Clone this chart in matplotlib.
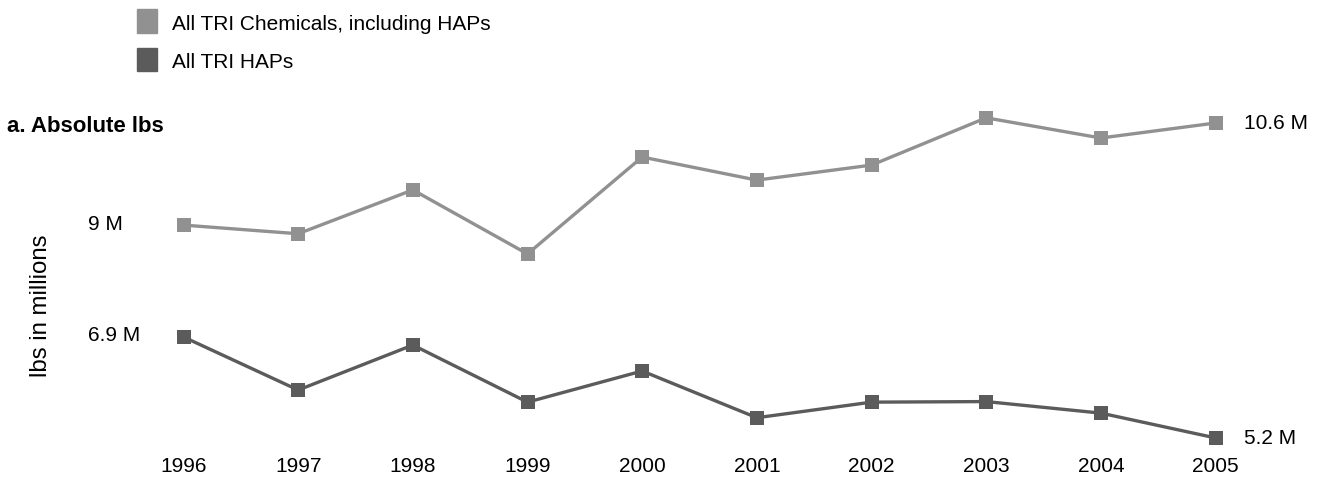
import matplotlib.pyplot as plt
from matplotlib.patches import Rectangle

# data (millions of lbs)
years = [1996, 1997, 1998, 1999, 2000, 2001, 2002, 2003, 2004, 2005]
all_tri = [8.89, 8.74, 9.50, 8.39, 10.07, 9.67, 9.93, 10.75, 10.40, 10.66]
tri_haps = [6.95, 6.03, 6.81, 5.82, 6.36, 5.55, 5.82, 5.83, 5.63, 5.20]
series_names = ["All TRI Chemicals, including HAPs", "All TRI HAPs"]
start_labels = ["9 M", "6.9 M"]
end_labels = ["10.6 M", "5.2 M"]

col_light = "#919191"
col_dark = "#5b5b5b"
fs = 15

plt.rcParams['font.family'] = ['Liberation Sans', 'DejaVu Sans']

W, H = 1333, 479
fig = plt.figure(figsize=(W / 100, H / 100), dpi=100)

# axes placed in pixel terms
x0, x1 = 183.5, 1215.5
ytop, ybot = 100, 445
ax = fig.add_axes([x0 / W, 1 - ybot / H, (x1 - x0) / W, (ybot - ytop) / H])
ax.set_xlim(1996, 2005)
ax.set_ylim(5.077, 11.059)
for s in ax.spines.values():
    s.set_visible(False)
ax.set_yticks([])
ax.set_xticks(years)
ax.set_xticklabels([str(y) for y in years], fontsize=fs)
ax.tick_params(axis='x', length=0, pad=8.3)

for vals, col in [(all_tri, col_light), (tri_haps, col_dark)]:
    ax.plot(years, vals, color=col, lw=2.4, marker='s', markersize=10.5,
            markeredgewidth=0, clip_on=False, zorder=3)

# value labels at both ends
for vals, lab0, lab1 in [(all_tri, start_labels[0], end_labels[0]),
                         (tri_haps, start_labels[1], end_labels[1])]:
    ax.annotate(lab0, (years[0], vals[0]), xytext=(-95, -4.5), textcoords='offset pixels',
                ha='left', va='baseline', fontsize=fs)
    ax.annotate(lab1, (years[-1], vals[-1]), xytext=(28, -6), textcoords='offset pixels',
                ha='left', va='baseline', fontsize=fs)

# legend drawn by hand
for i, (name, col) in enumerate(zip(series_names, [col_light, col_dark])):
    top = 9.3 + i * 38.5
    fig.patches.append(Rectangle((136.7 / W, 1 - (top + 23.3) / H), 20.6 / W, 23.3 / H,
                                 transform=fig.transFigure, color=col))
    fig.text(172 / W, 1 - (top + 20.5) / H, name, fontsize=fs, va='baseline', ha='left')

fig.text(7 / W, 1 - 131.5 / H, "a. Absolute lbs", fontsize=16, fontweight='bold',
         va='baseline', ha='left')
fig.text(41 / W, 1 - 306 / H, "lbs in millions", fontsize=17.3, rotation=90,
         va='center', ha='center')

fig.savefig("out.png", dpi=100)
